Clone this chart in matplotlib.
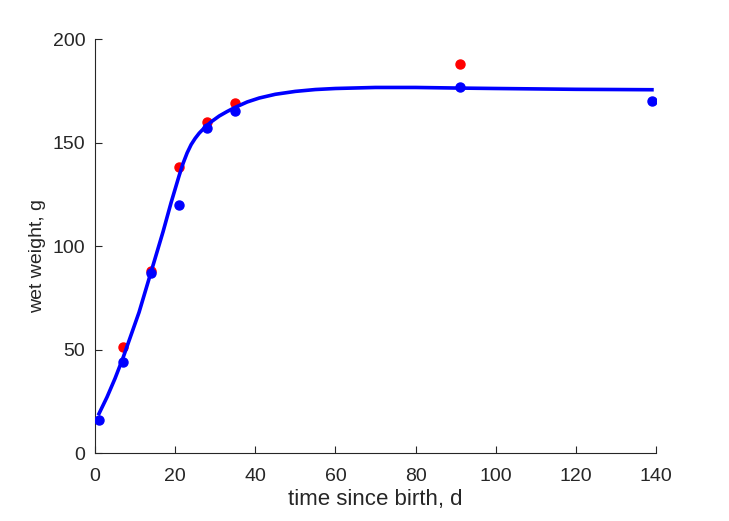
import numpy as np
import matplotlib.pyplot as plt
plt.rcParams["font.family"] = ["Liberation Sans", "DejaVu Sans"]
plt.rcParams["font.size"] = 14

# observed wet weight, two groups
t_red = [7, 14, 21, 28, 35, 91]
w_red = [51, 88, 138, 160, 169, 188]
t_blue = [1, 7, 14, 21, 28, 35, 91, 139]
w_blue = [16, 44, 87, 120, 157, 165, 177, 170]

# fitted curve
t_fit = [1, 3, 5, 7, 9, 11, 13, 14, 15, 17, 19, 21, 22, 23, 24, 25, 26, 27, 29,
         31, 33, 35, 38, 41, 45, 50, 55, 60, 70, 80, 91, 100, 110, 120, 130, 139]
w_fit = [19, 27, 36, 46, 57, 68, 81, 87.5, 94, 107, 121, 134, 140, 145, 149,
         152, 154.5, 156.5, 160, 162.8, 165, 167, 169.6, 171.5, 173.3, 174.7,
         175.6, 176.1, 176.6, 176.6, 176.3, 176.1, 175.9, 175.7, 175.6, 175.5]

fig = plt.figure(figsize=(7.29, 5.21), dpi=100)
ax = fig.add_axes([0.1303, 0.1305, 0.7695, 0.7946])
c = "#262626"
ax.plot(t_red, w_red, "o", color="red", markersize=6.5, zorder=2)
ax.plot(t_fit, w_fit, "-", color="blue", linewidth=2.6, zorder=3,
        solid_joinstyle="round")
ax.plot(t_blue, w_blue, "o", color="blue", markersize=6.5, zorder=4)

ax.set_xlim(0, 140)
ax.set_ylim(0, 200)
ax.set_xticks(np.arange(0, 141, 20))
ax.set_yticks(np.arange(0, 201, 50))
ax.spines["top"].set_visible(False)
ax.spines["right"].set_visible(False)
for s in ["left", "bottom"]:
    ax.spines[s].set_color(c)
    ax.spines[s].set_linewidth(0.8)
ax.tick_params(direction="in", length=5, color=c, labelcolor=c, labelsize=14)
ax.tick_params(axis="x", pad=11)
ax.tick_params(axis="y", pad=7)
ax.set_xlabel("time since birth, d", color=c, fontsize=16, labelpad=3)
ax.set_ylabel("wet weight, g", color=c, fontsize=14)
ax.yaxis.set_label_coords(-0.087, 0.475)
fig.savefig("out.png", dpi=100)
